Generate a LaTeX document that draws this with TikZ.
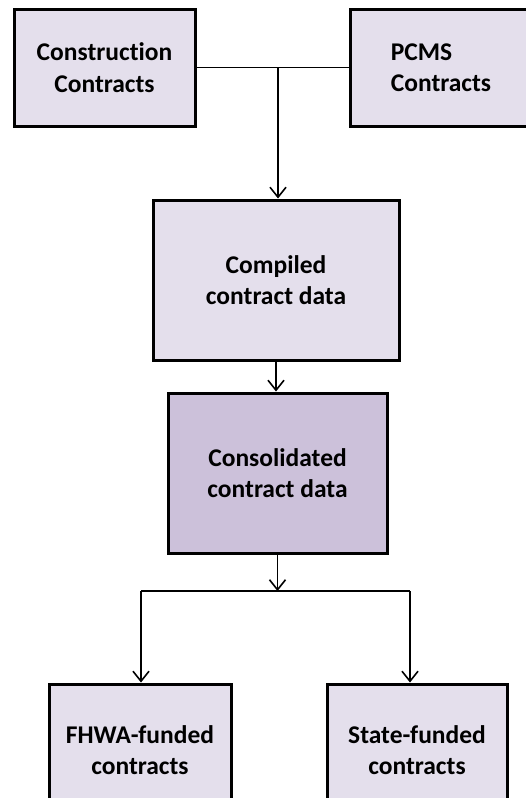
\documentclass[tikz,border=0pt]{standalone}
\usepackage{fontspec}
\setmainfont{Carlito}[Ligatures={NoCommon}]
\usetikzlibrary{arrows.meta}
\definecolor{boxlight}{HTML}{E4DFEC}
\definecolor{boxdark}{HTML}{CCC1DA}
\tikzset{
  flowbox/.style={draw=black, line width=3pt, fill=boxlight, align=center,
    font=\fontsize{25.5pt}{31.5pt}\selectfont\bfseries, inner sep=0pt},
  link/.style={line width=1.6pt},
  flowarrow/.style={link, -{Straight Barb[length=10pt,width=16pt]}}
}
\begin{document}
\begin{tikzpicture}[x=1pt,y=-1pt]
\useasboundingbox (0,0) rectangle (526,798);
\clip (0,0) rectangle (526,798);
% sources
\node[flowbox, minimum width=181pt, minimum height=117pt] (constr) at (104.5,67.5) {Construction\\Contracts};
\node[flowbox, minimum width=182pt, minimum height=117pt, align=left] (pcms) at (441,67.5) {PCMS\\Contracts};
% processing steps
\node[flowbox, minimum width=246pt, minimum height=160pt] (compiled) at (276,280) {Compiled\\contract data};
\node[flowbox, fill=boxdark, minimum width=219pt, minimum height=160pt] (consol) at (277.5,473) {Consolidated\\contract data};
% outputs
\node[flowbox, minimum width=182pt, minimum height=132pt] (fhwa) at (140,750) {FHWA-funded\\contracts};
\node[flowbox, minimum width=180pt, minimum height=132pt] (state) at (417,750) {State-funded\\contracts};
% merge of the two sources
\draw[link] (constr.east) -- (pcms.west);
\coordinate (merge) at (278,68);
\draw[flowarrow] (merge) -- (merge |- compiled.north);
\draw[flowarrow] (compiled.south) -- (compiled.south |- consol.north);
% split into funding types
\coordinate (splitL) at (141,591);
\coordinate (splitR) at (410,591);
\coordinate (splitM) at (consol.south |- splitL);
\draw[flowarrow] (consol.south) -- (splitM);
\draw[link] (splitL) -- (splitR);
\draw[flowarrow] (splitL) -- (splitL |- fhwa.north);
\draw[flowarrow] (splitR) -- (splitR |- state.north);
\end{tikzpicture}
\end{document}
